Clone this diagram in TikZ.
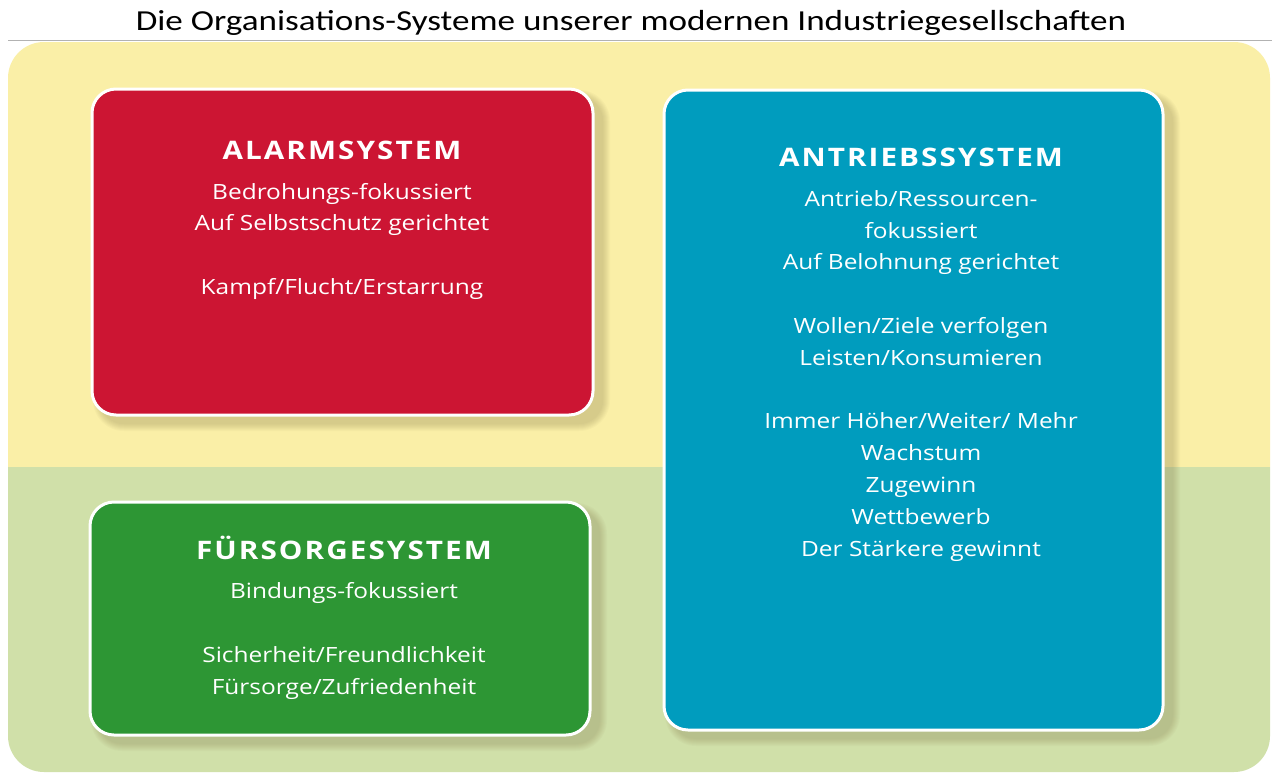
\documentclass[tikz,border=0pt]{standalone}
\usepackage{fontspec}
\setmainfont{Open Sans}[FakeStretch=1.165]
\newfontfamily\titlefont{Carlito}[FakeStretch=1.21]
\newfontfamily\headfont{Open Sans}[FakeStretch=1.165,LetterSpace=8]
\begin{document}
\definecolor{paleyellow}{HTML}{FAEFA7}
\definecolor{palegreen}{HTML}{D0E0A9}
\definecolor{alarmred}{HTML}{CC1533}
\definecolor{careggreen}{HTML}{2D9634}
\definecolor{driveblue}{HTML}{009CBE}
\definecolor{shadowcol}{HTML}{8A7F50}
\begin{tikzpicture}[x=1pt,y=-1pt,
  sysbox/.style={draw=white,line width=3pt,rounded corners=24pt},
  headtext/.style={anchor=base,text=white,inner sep=0pt,font=\headfont\bfseries\fontsize{25.5}{32}\selectfont},
  % anchor=base of a multi-line node sits on the baseline of its last line
  bodytext/.style={anchor=base,text=white,inner sep=0pt,align=center,font=\fontsize{21}{31.8}\selectfont},
]
\useasboundingbox (0,0) rectangle (1272,774);
\fill[white] (0,0) rectangle (1272,774);

% title and rule
\node[anchor=base,inner sep=0pt,font=\titlefont\fontsize{29}{32}\selectfont] (title) at (631,30) {Die Organisations-Systeme unserer modernen Industriegesellschaften};
\coordinate (ruleL) at (8,40);
\coordinate (ruleR) at (1272,40);
\draw[gray!60,line width=1pt] (ruleL) -- (ruleR);

% background panel, yellow above and green below
\begin{scope}
  \clip[rounded corners=36pt] (8,42) rectangle (1270,772);
  \fill[paleyellow] (0,42) rectangle (1272,467);
  \fill[palegreen] (0,467) rectangle (1272,774);
\end{scope}

% soft shadows
\foreach \r in {0,...,7}{
  \fill[shadowcol,opacity=0.045,rounded corners=24pt+\r pt]
    (92+8-\r,89+8-\r) rectangle (593+10+\r,415+9+\r);
  \fill[shadowcol,opacity=0.045,rounded corners=24pt+\r pt]
    (90+8-\r,502+8-\r) rectangle (590+10+\r,735+9+\r);
  \fill[shadowcol,opacity=0.045,rounded corners=24pt+\r pt]
    (664+8-\r,90+8-\r) rectangle (1163+10+\r,730+9+\r);
}

% the three systems
\draw[sysbox,fill=alarmred] (92,89) rectangle (593,415);
\draw[sysbox,fill=careggreen] (90,502) rectangle (590,735);
\draw[sysbox,fill=driveblue] (664,90) rectangle (1163,730);

\node[headtext] (alarmhead) at (342,159) {ALARMSYSTEM};
\node[bodytext] (alarmbody) at (342,294.4) {Bedrohungs-fokussiert\\Auf Selbstschutz gerichtet\\[31.8pt]Kampf/Flucht/Erstarrung};

\node[headtext] (drivehead) at (921,166.5) {ANTRIEBSSYSTEM};
\node[bodytext] (drivebody) at (921,556) {Antrieb/Ressourcen-\\fokussiert\\Auf Belohnung gerichtet\\[31.8pt]Wollen/Ziele verfolgen\\Leisten/Konsumieren\\[31.8pt]Immer H\"oher/Weiter/ Mehr\\Wachstum\\Zugewinn\\Wettbewerb\\Der St\"arkere gewinnt};

\node[headtext] (carehead) at (344,559.5) {FÜRSORGESYSTEM};
\node[bodytext] (carebody) at (344,694) {Bindungs-fokussiert\\[31.8pt]Sicherheit/Freundlichkeit\\Fürsorge/Zufriedenheit};
\end{tikzpicture}
\end{document}
